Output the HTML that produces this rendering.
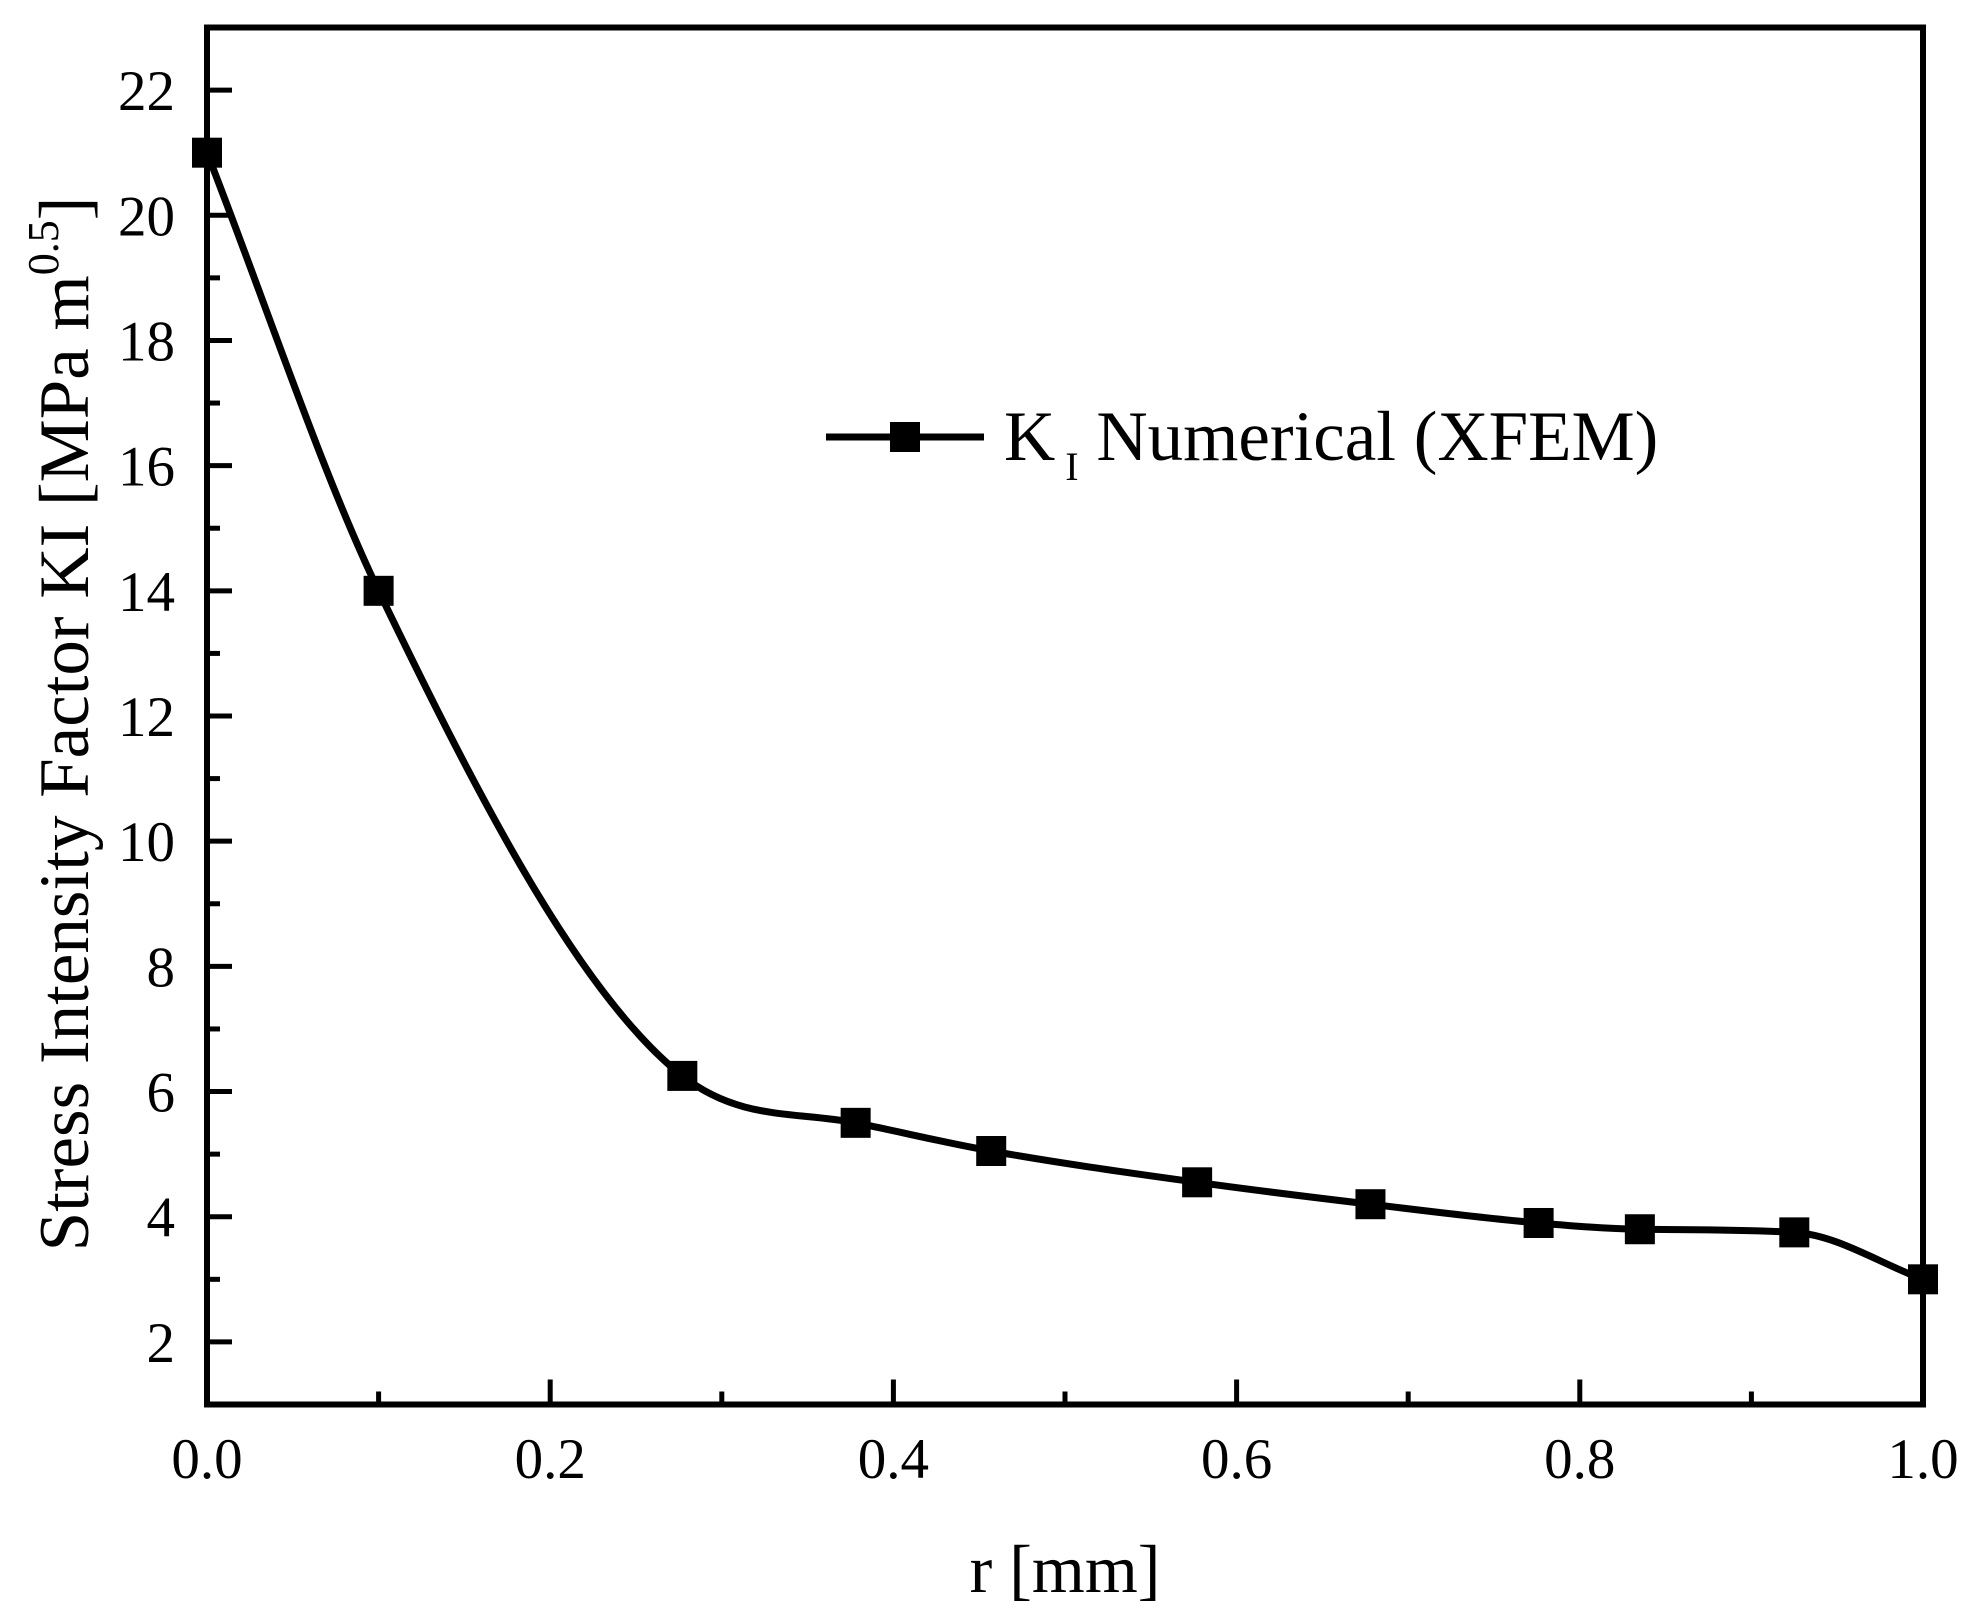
<!DOCTYPE html>
<html><head><meta charset="utf-8"><style>
html,body{margin:0;padding:0;background:#fff;}
svg{display:block;font-family:"Liberation Serif",serif;}
</style></head><body>
<svg id="chart" width="1982" height="1624" viewBox="0 0 1982 1624" xmlns="http://www.w3.org/2000/svg">
<g id="ticks"></g>
<g id="series"></g>
<rect x="207" y="27.5" width="1716" height="1377" fill="none" stroke="#000" stroke-width="6"/>
<text x="1065" y="1592" font-size="68" text-anchor="middle">r [mm]</text>
<text transform="translate(88,724) rotate(-90)" font-size="71" text-anchor="middle">Stress Intensity Factor KI [MPa m<tspan font-size="44" dy="-30">0.5</tspan><tspan dy="30">]</tspan></text>
<g>
<line x1="826" y1="437" x2="984" y2="437" stroke="#000" stroke-width="7"/>
<rect x="890" y="422" width="30" height="30" fill="#000"/>
<text x="1004" y="460" font-size="71">K<tspan font-size="40" dy="20"> I</tspan><tspan dy="-20"> Numerical (XFEM)</tspan></text>
</g>
</svg>
<script>
const xValues=[0,0.1,0.277,0.378,0.457,0.577,0.678,0.776,0.835,0.925,1.0];
const kiValues=[21,14,6.25,5.5,5.05,4.55,4.2,3.9,3.8,3.75,3.0];
const xTicks=[0,0.2,0.4,0.6,0.8,1.0];
const xTickLabels=["0.0","0.2","0.4","0.6","0.8","1.0"];
const yTicks=[2,4,6,8,10,12,14,16,18,20,22];
const yTickLabels=["2","4","6","8","10","12","14","16","18","20","22"];
const NS="http://www.w3.org/2000/svg";
const L=207,R=1923,T=27.5,B=1404.5,X0=0,X1=1,Y0=1,Y1=23;
function sx(v){return L+(v-X0)/(X1-X0)*(R-L);}
function sy(v){return B-(v-Y0)/(Y1-Y0)*(B-T);}
function mk(tag,attrs,parent){const e=document.createElementNS(NS,tag);for(const k in attrs)e.setAttribute(k,attrs[k]);parent.appendChild(e);return e;}
const tg=document.getElementById('ticks');
xTicks.forEach((v,i)=>{
  const t=mk('line',{x1:sx(v),x2:sx(v),y1:B,y2:B-25,stroke:'#000','stroke-width':5},tg);
  
  
  if(i<xTicks.length-1){const m=(v+xTicks[i+1])/2;
    const mt=mk('line',{x1:sx(m),x2:sx(m),y1:B,y2:B-13,stroke:'#000','stroke-width':5},tg);
    
    }
  const lb=mk('text',{x:sx(v),y:1478,'font-size':57,'text-anchor':'middle'},tg);
  lb.textContent=xTickLabels[i];
  
  
});
yTicks.forEach((v,i)=>{
  const t=mk('line',{x1:L,x2:L+25,y1:sy(v),y2:sy(v),stroke:'#000','stroke-width':5},tg);
  
  
  const mt=mk('line',{x1:L,x2:L+13,y1:sy(v+1),y2:sy(v+1),stroke:'#000','stroke-width':5},tg);
  
  
  const lb=mk('text',{x:175,y:sy(v)+20,'font-size':57,'text-anchor':'end'},tg);
  lb.textContent=yTickLabels[i];
  
  
});
const sg=document.getElementById('series');
const pts=xValues.map((x,i)=>[sx(x),sy(kiValues[i])]);
// monotone cubic (Fritsch-Carlson) tangents
const n=pts.length,dl=[],m=[];
for(let i=0;i<n-1;i++)dl.push((pts[i+1][1]-pts[i][1])/(pts[i+1][0]-pts[i][0]));
m[0]=dl[0];m[n-1]=dl[n-2];
for(let i=1;i<n-1;i++){m[i]=(dl[i-1]*dl[i]<=0)?0:(dl[i-1]+dl[i])/2;}
for(let i=0;i<n-1;i++){
  if(dl[i]===0){m[i]=0;m[i+1]=0;continue;}
  const a=m[i]/dl[i],b=m[i+1]/dl[i],s=a*a+b*b;
  if(s>9){const t=3/Math.sqrt(s);m[i]=t*a*dl[i];m[i+1]=t*b*dl[i];}
}
let d='M'+pts[0][0]+','+pts[0][1];
for(let i=0;i<n-1;i++){
  const h=(pts[i+1][0]-pts[i][0])/3;
  d+=' C'+(pts[i][0]+h)+','+(pts[i][1]+m[i]*h)+' '+(pts[i+1][0]-h)+','+(pts[i+1][1]-m[i+1]*h)+' '+pts[i+1][0]+','+pts[i+1][1];
}
const path=mk('path',{d:d,fill:'none',stroke:'#000','stroke-width':7},sg);


pts.forEach(p=>{
  const r=mk('rect',{x:p[0]-15,y:p[1]-15,width:30,height:30,fill:'#000'},sg);
  
  
});
</script>
</body></html>
